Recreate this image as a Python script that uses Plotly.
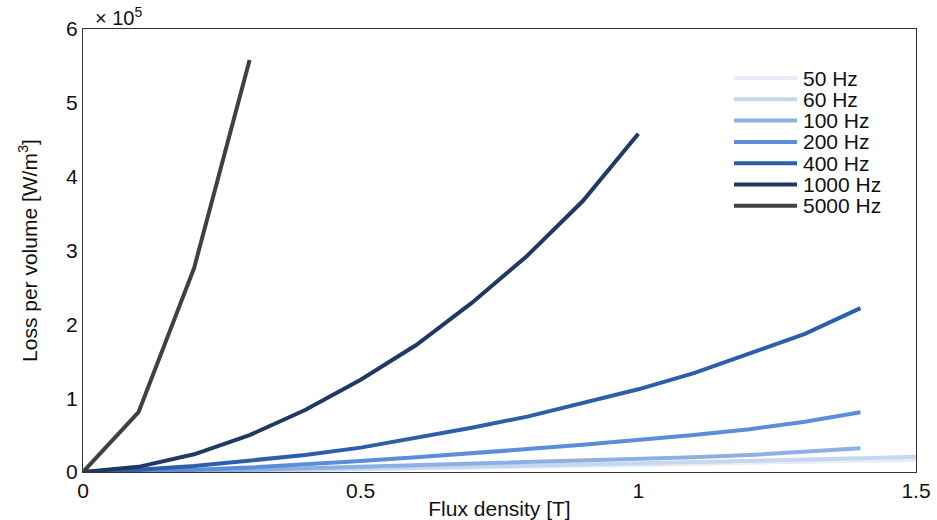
import plotly.graph_objects as go

# Flux density samples [T]
flux = [0.0, 0.1, 0.2, 0.3, 0.4, 0.5, 0.6, 0.7, 0.8, 0.9, 1.0, 1.1, 1.2, 1.3, 1.4, 1.5, 1.6]

# Loss per volume, in units of 1e5 W/m^3
loss_50 = [0, 0.002, 0.008, 0.016, 0.025, 0.034, 0.045, 0.057, 0.070, 0.083, 0.096, 0.110, 0.125, 0.140, 0.152, 0.165, 0.18]
loss_60 = [0, 0.003, 0.010, 0.020, 0.030, 0.040, 0.055, 0.070, 0.085, 0.100, 0.115, 0.130, 0.150, 0.170, 0.185, 0.205, 0.22]
loss_100 = [0, 0.005, 0.015, 0.030, 0.050, 0.070, 0.090, 0.110, 0.130, 0.150, 0.170, 0.200, 0.230, 0.270, 0.320]
loss_200 = [0, 0.010, 0.030, 0.060, 0.100, 0.150, 0.200, 0.250, 0.310, 0.370, 0.430, 0.500, 0.580, 0.680, 0.810]
loss_400 = [0, 0.030, 0.080, 0.150, 0.230, 0.330, 0.460, 0.600, 0.750, 0.930, 1.120, 1.340, 1.600, 1.870, 2.220]
loss_1000 = [0, 0.070, 0.240, 0.500, 0.840, 1.250, 1.720, 2.290, 2.930, 3.670, 4.580]
loss_5000 = [0, 0.810, 2.760, 5.580]

series = [
    ("50 Hz", loss_50, "#e6edf7"),
    ("60 Hz", loss_60, "#c5d8ef"),
    ("100 Hz", loss_100, "#8db0e2"),
    ("200 Hz", loss_200, "#5b8dd8"),
    ("400 Hz", loss_400, "#2d5ea9"),
    ("1000 Hz", loss_1000, "#1f3864"),
    ("5000 Hz", loss_5000, "#404040"),
]

font = "Liberation Sans, Arial, Helvetica, sans-serif"
ink = "#111111"

fig = go.Figure()
for name, vals, color in series:
    fig.add_trace(go.Scatter(
        x=flux[:len(vals)], y=vals, mode="lines", name=name,
        line=dict(color=color, width=4), showlegend=False,
    ))

axis_common = dict(
    showgrid=False, zeroline=False, showline=True, mirror=True,
    linecolor="#333333", linewidth=1, ticks="", automargin=False,
    tickfont=dict(family=font, size=21, color=ink),
)

fig.update_layout(
    width=937, height=520,
    margin=dict(l=83, r=21, t=29, b=48),
    paper_bgcolor="white", plot_bgcolor="white",
    font=dict(family=font, size=21, color=ink),
    xaxis=dict(range=[0, 1.5], tickvals=[0, 0.5, 1, 1.5], ticktext=["0", "0.5", "1", "1.5"],
               title=dict(text="Flux density [T]", font=dict(size=21), standoff=2), **axis_common),
    yaxis=dict(range=[0, 6], tickvals=[0, 1, 2, 3, 4, 5, 6],
               title=dict(text="Loss per volume [W/m<sup>3</sup>]", font=dict(size=21), standoff=22),
               **axis_common),
)

# Legend drawn in paper coordinates: a short line sample and a label per series
plot_l, plot_r, plot_t, plot_b = 83, 916, 29, 472
def px_x(px):
    return (px - plot_l) / (plot_r - plot_l)
def px_y(py):
    return (plot_b - py) / (plot_b - plot_t)

row0, row_step = 78, 21.3
for i, (name, _, color) in enumerate(series):
    yy = px_y(row0 + i * row_step)
    fig.add_shape(type="line", xref="paper", yref="paper",
                  x0=px_x(734), x1=px_x(797), y0=yy, y1=yy,
                  line=dict(color=color, width=4))
    fig.add_annotation(text=name, xref="paper", yref="paper",
                       x=px_x(801), y=yy, xanchor="left", yanchor="middle",
                       showarrow=False, font=dict(family=font, size=21, color=ink))

fig.add_annotation(
    text="× 10<sup>5</sup>", xref="paper", yref="paper", x=0.012, y=1.0,
    xanchor="left", yanchor="bottom", yshift=-2, showarrow=False,
    font=dict(family=font, size=20, color=ink),
)

fig.write_html("out.html")
